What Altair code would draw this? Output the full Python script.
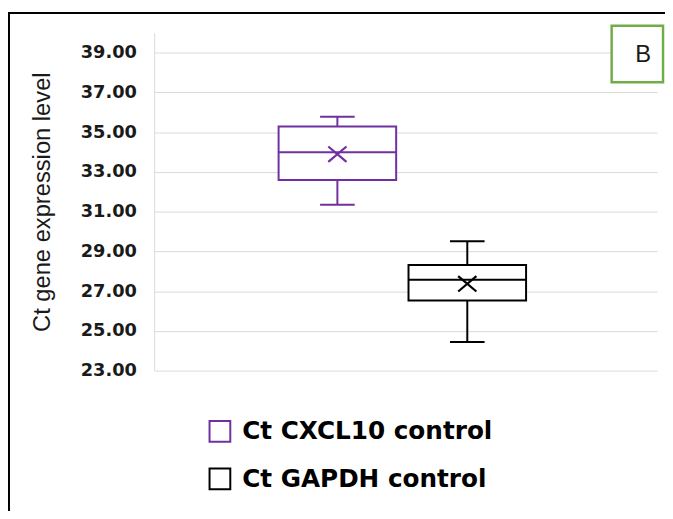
import altair as alt
import pandas as pd

series = ["Ct CXCL10 control", "Ct GAPDH control"]
lower = [31.35, 24.44]
q1 = [32.59, 26.53]
median = [33.99, 27.57]
q3 = [35.28, 28.32]
upper = [35.77, 29.51]
mean = [33.89, 27.37]
colors = ["#7030A0", "#000000"]
y_ticks = [23, 25, 27, 29, 31, 33, 35, 37, 39]
y_domain = [23, 40]
panel_label = ["B"]

df = pd.DataFrame({"series": series, "lower": lower, "q1": q1, "median": median,
                   "q3": q3, "upper": upper, "mean": mean})

W, H = 509, 342

xscale = alt.Scale(domain=series, paddingInner=0.095, paddingOuter=0.983, align=0.487)
yscale = alt.Scale(domain=y_domain, nice=False, zero=False)
cscale = alt.Scale(domain=series, range=colors)

leg = alt.Legend(title=None, orient="none", legendX=54, legendY=391,
                 symbolType="square", symbolSize=441,
                 symbolStrokeWidth=2, symbolFillColor="white", symbolOpacity=1,
                 labelFont="DejaVu Sans", labelFontWeight="bold",
                 labelFontSize=25, labelColor="#000000", labelLimit=0,
                 rowPadding=19, labelOffset=10, padding=0)

base = alt.Chart(df).encode(x=alt.X("series:N", scale=xscale, axis=None, sort=series))

yaxis = alt.Axis(values=y_ticks, format=".2f", ticks=False, domainColor="#D9D9D9",
                 gridColor="#D9D9D9", labelFont="DejaVu Sans", labelFontWeight="bold",
                 labelFontSize=18, labelColor="#1a1a1a", labelPadding=18,
                 title="Ct gene expression level", titleFont="Liberation Sans",
                 titleFontSize=24, titleFontWeight="normal", titleColor="#1a1a1a",
                 titleX=-113, titleY=171, titleBaseline="middle", titleAngle=270)

def stk():
    return alt.Stroke("series:N", scale=cscale, sort=series, legend=leg)

whisk_lo = base.mark_rule(strokeWidth=2).encode(
    y=alt.Y("lower:Q", scale=yscale, axis=yaxis), y2="q1:Q", stroke=stk())
whisk_hi = base.mark_rule(strokeWidth=2).encode(
    y=alt.Y("q3:Q", scale=yscale), y2="upper:Q", stroke=stk())
box = base.mark_bar(fill="white", strokeWidth=2).encode(
    y=alt.Y("q1:Q", scale=yscale), y2="q3:Q", stroke=stk())
med = base.mark_bar(fill="white", strokeWidth=2).encode(
    y=alt.Y("median:Q", scale=yscale), y2="median:Q", stroke=stk())
cap_lo = base.mark_bar(fill="white", strokeWidth=2, width=35).encode(
    y=alt.Y("lower:Q", scale=yscale), y2="lower:Q", stroke=stk())
cap_hi = base.mark_bar(fill="white", strokeWidth=2, width=35).encode(
    y=alt.Y("upper:Q", scale=yscale), y2="upper:Q", stroke=stk())
mean_pt = base.mark_point(shape="M-1,-0.85L1,0.85M-1,0.85L1,-0.85", filled=False,
                          size=340, strokeWidth=2.2, opacity=1).encode(
    y=alt.Y("mean:Q", scale=yscale), stroke=stk())

lab_df = pd.DataFrame({"label": panel_label})
frame = alt.Chart(lab_df).mark_rect(fill="transparent", stroke="#000000", strokeWidth=2).encode(
    x=alt.value(-147), x2=alt.value(W + 60), y=alt.value(-20), y2=alt.value(H + 220))
bbox = alt.Chart(lab_df).mark_rect(fill="white", stroke="#70AD47", strokeWidth=2.5).encode(
    x=alt.value(463), x2=alt.value(515), y=alt.value(-7), y2=alt.value(50))
btext = alt.Chart(lab_df).mark_text(font="Liberation Sans", fontSize=24, color="#1a1a1a",
                                    align="center", baseline="middle").encode(
    x=alt.value(495), y=alt.value(23), text="label:N")

chart = alt.layer(frame, whisk_lo, whisk_hi, box, med, cap_lo, cap_hi, mean_pt, bbox, btext).properties(
    width=W, height=H,
    autosize=alt.AutoSizeParams(type="none"),
    padding={"left": 148, "top": 22, "right": 8, "bottom": 139},
    background="white",
).configure_view(stroke="transparent")

chart.save("out.html", embed_options={"renderer": "svg", "actions": False})
